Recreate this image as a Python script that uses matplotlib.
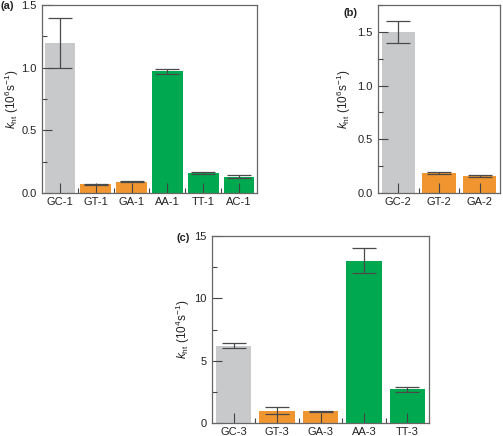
import matplotlib
matplotlib.use("Agg")
import matplotlib.pyplot as plt
from matplotlib.ticker import MultipleLocator, FixedLocator

GRAY = "#c8c9cb"
ORANGE = "#f0952f"
GREEN = "#00a94f"

cats_a = ["GC-1", "GT-1", "GA-1", "AA-1", "TT-1", "AC-1"]
vals_a = [1.2, 0.07, 0.09, 0.97, 0.16, 0.13]
errs_a = [0.2, 0.004, 0.005, 0.02, 0.01, 0.01]
cols_a = [GRAY, ORANGE, ORANGE, GREEN, GREEN, GREEN]

cats_b = ["GC-2", "GT-2", "GA-2"]
vals_b = [1.5, 0.19, 0.16]
errs_b = [0.1, 0.01, 0.01]
cols_b = [GRAY, ORANGE, ORANGE]

cats_c = ["GC-3", "GT-3", "GA-3", "AA-3", "TT-3"]
vals_c = [6.2, 1.0, 0.95, 13.0, 2.7]
errs_c = [0.2, 0.25, 0.05, 1.0, 0.2]
cols_c = [GRAY, ORANGE, ORANGE, GREEN, GREEN]

plt.rcParams["font.family"] = ["Liberation Sans", "DejaVu Sans"]
plt.rcParams["mathtext.fontset"] = "custom"
plt.rcParams["mathtext.rm"] = "Liberation Sans"
plt.rcParams["mathtext.it"] = "Liberation Sans:italic"

W, H = 503, 436
fig = plt.figure(figsize=(W / 100, H / 100), dpi=100)

def make_ax(l, t, r, b):
    return fig.add_axes([l / W, 1 - b / H, (r - l) / W, (b - t) / H])

def panel(ax, cats, vals, errs, cols, ylim, major, minor, ylabel, width, lx):
    x = list(range(len(cats)))
    ax.bar(x, vals, width=width, color=cols, edgecolor="none", zorder=1)
    ax.errorbar(x, vals, yerr=errs, fmt="none", ecolor="#4a4a4a",
                elinewidth=0.9, capsize=8.5, capthick=0.9, zorder=3)
    ax.set_xlim(-0.5, len(cats) - 0.5)
    ax.set_ylim(*ylim)
    ax.yaxis.set_major_locator(MultipleLocator(major))
    ax.yaxis.set_minor_locator(MultipleLocator(minor))
    ax.set_xticks(x)
    ax.set_xticklabels(cats)
    ax.xaxis.set_minor_locator(FixedLocator([i + 0.5 for i in range(len(cats) - 1)]))
    ax.tick_params(axis="both", which="major", direction="in", length=7,
                   width=0.8, color="#444444", labelsize=8, pad=3,
                   labelcolor="#222222")
    ax.tick_params(axis="both", which="minor", direction="in", length=3.5,
                   width=0.8, color="#444444")
    ax.tick_params(axis="y", which="major", pad=4)
    for s in ax.spines.values():
        s.set_color("#666666")
        s.set_linewidth(0.9)
    ax.set_ylabel(ylabel, fontsize=8.5, color="#222222")
    ax.yaxis.set_label_coords(lx, 0.5)

ylab6 = r"$k_{\mathrm{ht}}$ (10$^{6}$s$^{-1}$)"
ylab4 = r"$k_{\mathrm{ht}}$ (10$^{4}$s$^{-1}$)"

ax_a = make_ax(42, 5, 257, 193)
panel(ax_a, cats_a, vals_a, errs_a, cols_a, (0, 1.5), 0.5, 0.25, ylab6, 0.86, -0.098)

ax_b = make_ax(378, 5, 500, 193)
panel(ax_b, cats_b, vals_b, errs_b, cols_b, (0, 1.75), 0.5, 0.25, ylab6, 0.82, -0.205)

ax_c = make_ax(212, 236, 429, 423)
panel(ax_c, cats_c, vals_c, errs_c, cols_c, (0, 15), 5, 2.5, ylab4, 0.82, -0.092)

for lab, px, py in [("(a)", 7, 6), ("(b)", 351, 13), ("(c)", 183, 238)]:
    fig.text(px / W, 1 - py / H, lab, fontsize=8, fontweight="bold",
             ha="center", va="center", color="#222222")

fig.savefig("out.png", dpi=100)
